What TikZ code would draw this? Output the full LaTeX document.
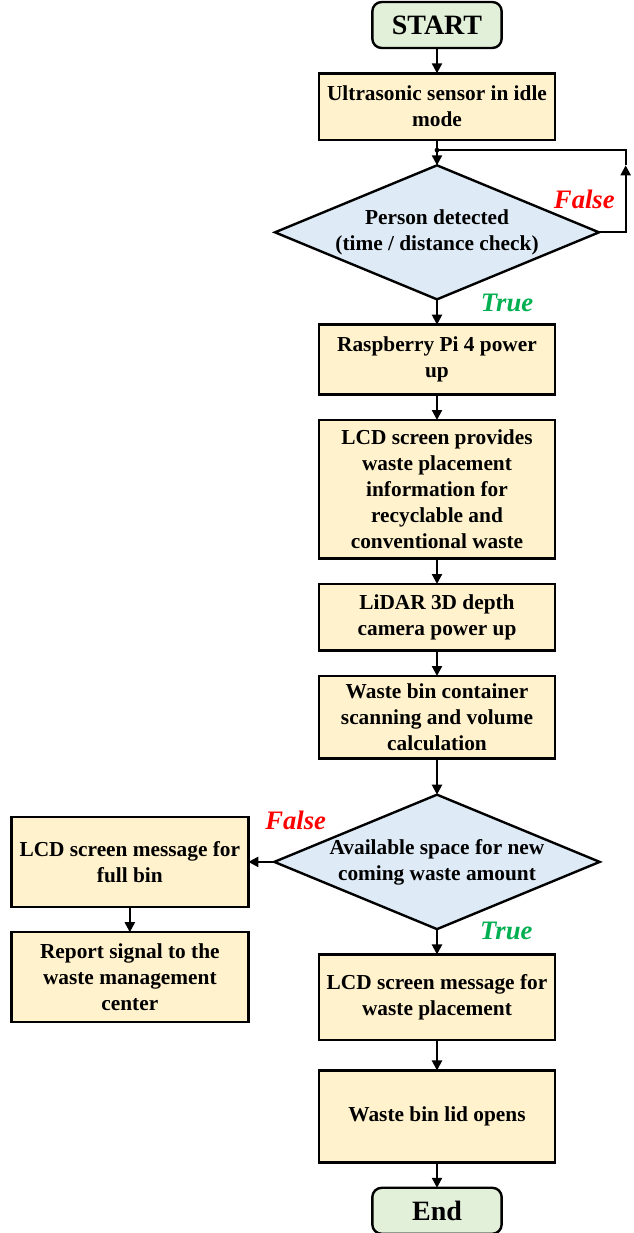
\documentclass[tikz,border=0pt]{standalone}
\usepackage{fontspec}
\setmainfont{Liberation Serif}
\usetikzlibrary{positioning,arrows.meta,calc,shapes.geometric}

\definecolor{boxfill}{HTML}{FFF2CC}
\definecolor{decfill}{HTML}{DEEBF7}
\definecolor{termfill}{HTML}{E2F0D9}
\definecolor{falsered}{HTML}{FF0000}
\definecolor{truegreen}{HTML}{00B050}

\begin{document}
\begin{tikzpicture}[
  font=\fontsize{16}{19.5}\selectfont\bfseries,
  node distance=19pt,
  every node/.style={outer sep=0pt},
  block/.style={draw, line width=1.8pt, fill=boxfill, align=center, minimum width=177pt, inner sep=2pt},
  term/.style={draw, line width=1.8pt, fill=termfill, rounded corners=7pt, minimum width=97pt, minimum height=34.5pt, font=\fontsize{21}{24}\selectfont\bfseries},
  decision/.style={diamond, draw, line width=1.8pt, fill=decfill, align=center, aspect=2.42, inner sep=0pt, minimum width=243pt, minimum height=100.5pt},
  arr/.style={-{Triangle[length=7.5pt,width=7.5pt]}, line width=1.6pt},
  conn/.style={line width=1.6pt},
  falselbl/.style={text=falsered, font=\fontsize{20}{24}\selectfont\bfseries\itshape},
  truelbl/.style={text=truegreen, font=\fontsize{20}{24}\selectfont\bfseries\itshape}
]
\useasboundingbox (0,0) rectangle (474.75pt,-924.75pt);

% main column
\node[term] (start) at (327.75pt,-18.75pt) {START};
\node[block, minimum height=50pt, below=of start] (idle) {Ultrasonic sensor in idle\\mode};
\node[decision, below=of idle] (person) {Person detected\\(time / distance check)};
\node[block, minimum height=52.5pt, below=of person] (pi) {Raspberry Pi 4 power\\up};
\node[block, minimum height=104pt, below=of pi] (lcdinfo) {LCD screen provides\\waste placement\\information for\\recyclable and\\conventional waste};
\node[block, minimum height=50pt, below=of lcdinfo] (lidar) {LiDAR 3D depth\\camera power up};
\node[block, minimum height=62pt, below=of lidar] (scan) {Waste bin container\\scanning and volume\\calculation};
\node[decision, below=27pt of scan] (space) {Available space for new\\coming waste amount};
\node[block, minimum height=64pt, below=of space] (lcdplace) {LCD screen message for\\waste placement};
\node[block, minimum height=69pt, below=23pt of lcdplace] (lid) {Waste bin lid opens};
\node[term, below=of lid] (end) {End};

% full bin branch
\node[block, minimum width=177.75pt, minimum height=67.5pt, left=19.5pt of space] (lcdfull) {LCD screen message for\\full bin};
\node[block, minimum width=177.75pt, minimum height=67.5pt, below=of lcdfull] (report) {Report signal to the\\waste management\\center};

% branch labels
\node[falselbl] at ([xshift=-11pt, yshift=25pt]person.east) {False};
\node[truelbl] at ([xshift=52.5pt, yshift=-3pt]person.south) {True};
\node[falselbl] at ([xshift=16pt, yshift=31pt]space.west) {False};
\node[truelbl] at ([xshift=52pt, yshift=-1pt]space.south) {True};

% arrows
\coordinate (join) at ($(idle.south)!0.4!(person.north)$);
\coordinate (loop) at ([xshift=20pt]person.east);
\draw[arr] (start) -- (idle);
\draw[arr] (idle) -- (person);
\fill (join) circle (1.8pt);
\draw[arr] (person.east) -- (loop) -- (loop |- person.north);
\draw[conn] (loop |- person.north) -- (loop |- join) -- (join);
\draw[arr] (person) -- (pi);
\draw[arr] (pi) -- (lcdinfo);
\draw[arr] (lcdinfo) -- (lidar);
\draw[arr] (lidar) -- (scan);
\draw[arr] (scan) -- (space);
\draw[arr] (space) -- (lcdfull);
\draw[arr] (lcdfull) -- (report);
\draw[arr] (space) -- (lcdplace);
\draw[arr] (lcdplace) -- (lid);
\draw[arr] (lid) -- (end);

\end{tikzpicture}
\end{document}
